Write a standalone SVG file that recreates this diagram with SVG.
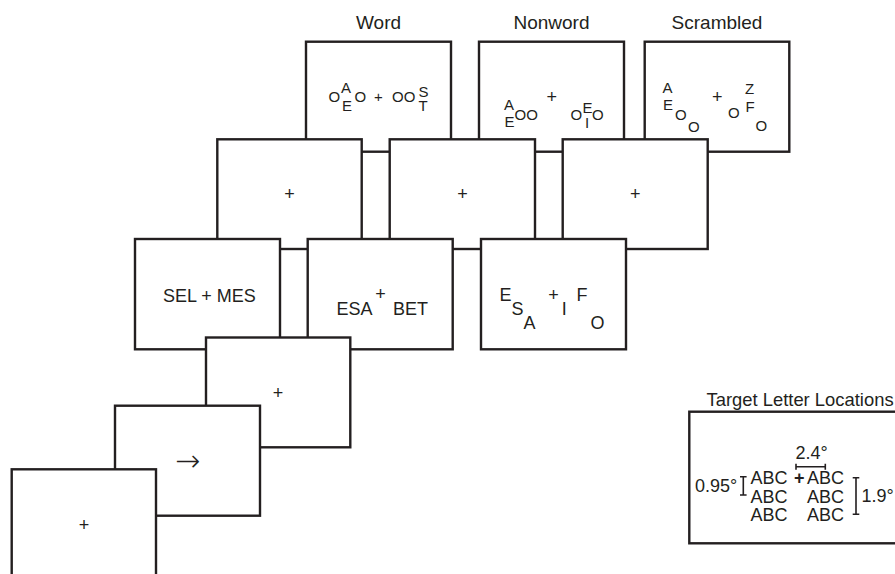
<svg xmlns="http://www.w3.org/2000/svg" width="895" height="574" viewBox="0 0 895 574">
<style>
.f{fill:#fff;stroke:#231f20;stroke-width:2.4}
text{font-family:"Liberation Sans",Arial,Helvetica,sans-serif;fill:#231f20}
.lab{font-size:19px;text-anchor:middle}
.s{font-size:15px}
.m{font-size:18px}
.c{text-anchor:middle}
.d{stroke:#231f20;stroke-width:1.6;fill:none}
</style>
<rect width="895" height="574" fill="#fff"/>
<g id="labels">
<text class="lab" x="378.5" y="29.3">Word</text>
<text class="lab" x="551.5" y="29.3">Nonword</text>
<text class="lab" x="717" y="29.3">Scrambled</text>
</g>
<g id="word-target">
<rect class="f" x="306" y="41.7" width="145" height="110"/>
<text class="s" x="328.5" y="101.7">O</text>
<text class="s" x="341" y="93.3">A</text>
<text class="s" x="342" y="111">E</text>
<text class="s" x="354.5" y="101.7">O</text>
<text class="s c" x="378.3" y="102">+</text>
<text class="s" x="392" y="101.7">OO</text>
<text class="s" x="418.5" y="96.5">S</text>
<text class="s" x="418.5" y="111">T</text>
</g>
<g id="nonword-target">
<rect class="f" x="479" y="41.7" width="145" height="110"/>
<text class="s" x="504" y="110">A</text>
<text class="s" x="504.5" y="126.7">E</text>
<text class="s" x="514.5" y="120">OO</text>
<text class="m c" x="551.7" y="102.7">+</text>
<text class="s" x="570.5" y="120">O</text>
<text class="s" x="582.5" y="113.3">E</text>
<text class="s c" x="587" y="128">I</text>
<text class="s" x="592" y="120">O</text>
</g>
<g id="scrambled-target">
<rect class="f" x="644.7" y="41.7" width="144.6" height="110"/>
<text class="s" x="662.5" y="93.3">A</text>
<text class="s" x="663" y="110">E</text>
<text class="s" x="675" y="120">O</text>
<text class="s" x="688" y="131.5">O</text>
<text class="m c" x="717.3" y="102.9">+</text>
<text class="s" x="728" y="118.3">O</text>
<text class="s" x="745" y="94">Z</text>
<text class="s" x="745.5" y="111.7">F</text>
<text class="s" x="755.5" y="130.5">O</text>
</g>
<g id="fix-2a">
<rect class="f" x="217.3" y="139.3" width="144.4" height="109.7"/>
<text class="m c" x="289.5" y="200.4">+</text>
</g>
<g id="fix-2b">
<rect class="f" x="389.7" y="139.3" width="145.3" height="109.7"/>
<text class="m c" x="462.4" y="200.4">+</text>
</g>
<g id="fix-2c">
<rect class="f" x="562.7" y="139.3" width="145" height="109.7"/>
<text class="m c" x="635.2" y="200.4">+</text>
</g>
<g id="word-prime">
<rect class="f" x="135" y="239" width="145" height="110.3"/>
<text class="m" x="163" y="301.7">SEL + MES</text>
</g>
<g id="nonword-prime">
<rect class="f" x="307.7" y="239" width="145" height="110.3"/>
<text class="m" x="336.5" y="315">ESA</text>
<text class="m c" x="380.5" y="300.4">+</text>
<text class="m" x="393" y="315">BET</text>
</g>
<g id="scrambled-prime">
<rect class="f" x="481" y="239" width="145" height="110.3"/>
<text class="m" x="499.5" y="300.7">E</text>
<text class="m" x="511.5" y="315.3">S</text>
<text class="m" x="523.5" y="329">A</text>
<text class="m c" x="553.5" y="300.9">+</text>
<text class="m c" x="564.3" y="315">I</text>
<text class="m" x="576.5" y="300.7">F</text>
<text class="m" x="590.5" y="328.5">O</text>
</g>
<g id="fix-4">
<rect class="f" x="206" y="337.5" width="144.3" height="109.8"/>
<text class="m c" x="278" y="398.9">+</text>
</g>
<g id="cue">
<rect class="f" x="115" y="405.7" width="145" height="110"/>
<text class="c" x="187.5" y="470.5" style="font-family:'DejaVu Sans',sans-serif;font-weight:200;font-size:30px">→</text>
</g>
<g id="fix-6">
<rect class="f" x="11.7" y="469.3" width="144.3" height="112"/>
<text class="m c" x="84" y="530.7">+</text>
</g>
<g id="legend">
<text class="m" x="706.5" y="406" style="font-size:18.4px">Target Letter Locations</text>
<rect class="f" x="689.3" y="411.7" width="210" height="131.6"/>
<text class="m c" x="811.7" y="459">2.4°</text>
<text class="m" x="750.5" y="484">ABC</text>
<text class="m c" x="799.3" y="484" style="font-weight:bold">+</text>
<text class="m" x="807" y="484">ABC</text>
<text class="m" x="750.5" y="502.7">ABC</text>
<text class="m" x="807" y="502.7">ABC</text>
<text class="m" x="750.5" y="521.3">ABC</text>
<text class="m" x="807" y="521.3">ABC</text>
<text class="m" x="695" y="491.7">0.95°</text>
<text class="m" x="861.5" y="501.7">1.9°</text>
</g>
<g id="dimensions">
<path class="d" d="M796 466.7H825.3M796 463.7V469.7M825.3 463.7V469.7"/>
<path class="d" d="M743.3 476.7V495M740 476.7H746.6M740 495H746.6"/>
<path class="d" d="M856 477.7V514.3M852.7 477.7H859.3M852.7 514.3H859.3"/>
</g>
</svg>
